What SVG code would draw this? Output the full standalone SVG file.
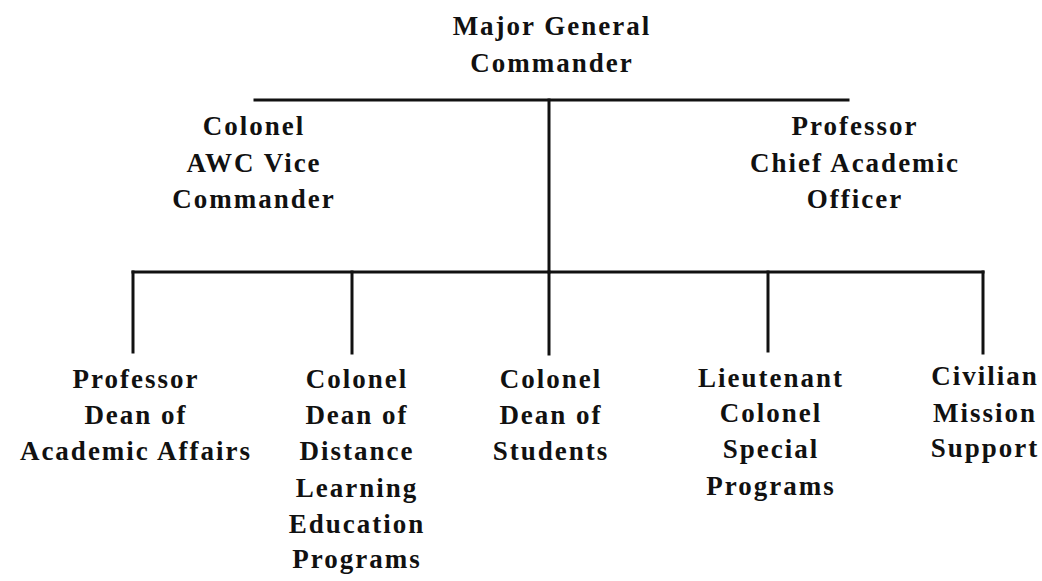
<svg xmlns="http://www.w3.org/2000/svg" width="1042" height="581" viewBox="0 0 1042 581">
<style>
text{font-family:'Liberation Serif','Times New Roman',serif;font-weight:bold;font-size:27px;letter-spacing:2px;text-anchor:middle;fill:#111}
.c line{stroke:#111;stroke-width:3;stroke-linecap:square}
</style>
<rect width="1042" height="581" fill="#fff"/>
<g class="c" id="connectors">
<line x1="255" y1="100" x2="848" y2="100"/>
<line x1="549" y1="100" x2="549" y2="272"/>
<line x1="133" y1="272" x2="983" y2="272"/>
<line x1="133" y1="272" x2="133" y2="352"/>
<line x1="352" y1="272" x2="352" y2="353"/>
<line x1="549" y1="272" x2="549" y2="354"/>
<line x1="768" y1="272" x2="768" y2="351"/>
<line x1="983" y1="272" x2="983" y2="353"/>
</g>
<g font-family="Liberation Serif, Times New Roman, serif">
<g id="commander"><text x="552" y="35">Major General</text><text x="552" y="72">Commander</text></g>
<g id="vice"><text x="254" y="135">Colonel</text><text x="254" y="172">AWC Vice</text><text x="254" y="208">Commander</text></g>
<g id="cao"><text x="855" y="135">Professor</text><text x="855" y="172">Chief Academic</text><text x="855" y="208">Officer</text></g>
<g id="academic"><text x="136" y="388">Professor</text><text x="136" y="424">Dean of</text><text x="136" y="460">Academic Affairs</text></g>
<g id="distance"><text x="357" y="388">Colonel</text><text x="357" y="424">Dean of</text><text x="357" y="460">Distance</text><text x="357" y="497">Learning</text><text x="357" y="533">Education</text><text x="357" y="568">Programs</text></g>
<g id="students"><text x="551" y="388">Colonel</text><text x="551" y="424">Dean of</text><text x="551" y="460">Students</text></g>
<g id="special"><text x="771" y="387">Lieutenant</text><text x="771" y="422">Colonel</text><text x="771" y="458">Special</text><text x="771" y="495">Programs</text></g>
<g id="civilian"><text x="985" y="385">Civilian</text><text x="985" y="422">Mission</text><text x="985" y="457">Support</text></g>
</g>
</svg>
